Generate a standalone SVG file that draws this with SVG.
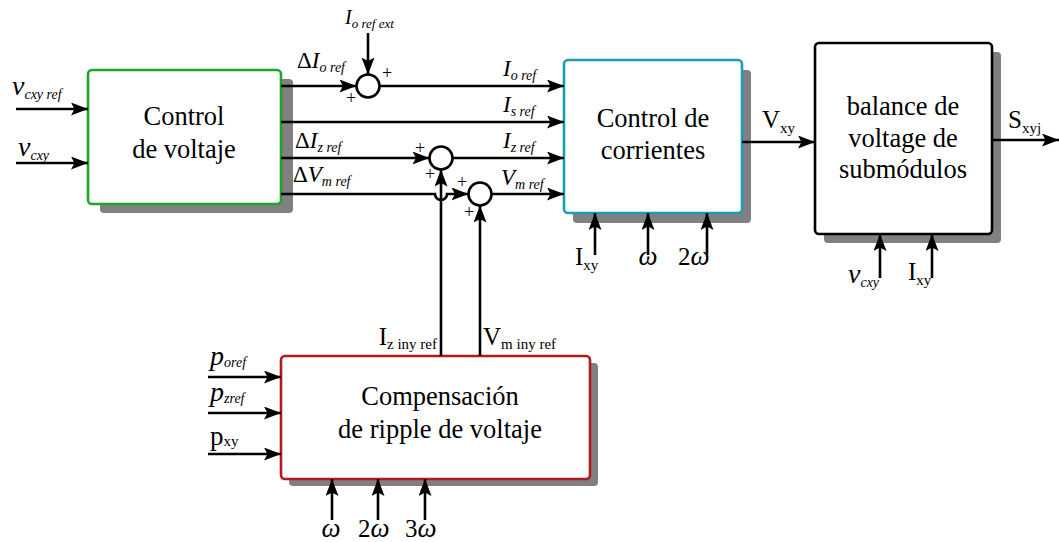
<svg xmlns="http://www.w3.org/2000/svg" width="1059" height="542" viewBox="0 0 1059 542">
<defs>
<marker id="ah" markerUnits="userSpaceOnUse" markerWidth="18" markerHeight="14" refX="17" refY="6.5" orient="auto">
<path d="M0,0 L17,6.5 L0,13 L3.5,6.5 z" fill="#000"/>
</marker>
<style>
text{font-family:"Liberation Serif","DejaVu Serif",serif;fill:#000}
.main{font-size:26.5px;text-anchor:middle}
.it{font-style:italic;font-size:23px}
.dl{font-size:23px}
.sub{font-size:14px;font-style:italic}
.up{font-size:25px}
.usub{font-size:15px}
.big{font-style:italic;font-size:28px}
.bsub{font-style:italic;font-size:14px}
.pl{font-size:18px;text-anchor:middle}
.w{font-style:italic;font-size:27px}
.arr{fill:none;stroke:#000;stroke-width:2.6;marker-end:url(#ah)}
.sh{fill:#808080}
.box{fill:#fff;stroke-width:2.6}
.sum{fill:#fff;stroke:#000;stroke-width:2.6}
</style>
</defs>
<rect width="1059" height="542" fill="#fff"/>

<g id="control-voltaje">
<rect class="sh" x="100" y="79" width="193" height="134" rx="4"/>
<rect class="box" x="88" y="70" width="193" height="134" rx="4" stroke="#1ea52a"/>
<text class="main" x="184" y="125">Control</text>
<text class="main" x="184" y="158">de voltaje</text>
</g>

<g id="control-corrientes">
<rect class="sh" x="573" y="70" width="178" height="153" rx="4"/>
<rect class="box" x="564" y="60" width="178" height="153" rx="4" stroke="#1b9cb6"/>
<text class="main" x="653" y="127">Control de</text>
<text class="main" x="653" y="159">corrientes</text>
</g>

<g id="balance">
<rect class="sh" x="824" y="52" width="177" height="191" rx="4"/>
<rect class="box" x="815" y="43" width="177" height="191" rx="4" stroke="#000"/>
<text class="main" x="903" y="115">balance de</text>
<text class="main" x="903" y="147">voltage de</text>
<text class="main" x="903" y="178">submódulos</text>
</g>

<g id="compensacion">
<rect class="sh" x="289" y="363" width="309" height="123" rx="4"/>
<rect class="box" x="281" y="356" width="309" height="123" rx="4" stroke="#b0191e"/>
<text class="main" x="440" y="405">Compensación</text>
<text class="main" x="440" y="438">de ripple de voltaje</text>
</g>

<g id="sum1"><circle class="sum" cx="368" cy="86" r="11.5"/></g>
<g id="sum2"><circle class="sum" cx="441" cy="158" r="11.5"/></g>
<g id="sum3"><circle class="sum" cx="480" cy="194" r="11.5"/></g>

<g id="connectors">
<line class="arr" x1="16" y1="109" x2="88" y2="109"/>
<line class="arr" x1="16" y1="163" x2="88" y2="163"/>
<line class="arr" x1="281" y1="86" x2="356.5" y2="86"/>
<line class="arr" x1="368" y1="33" x2="368" y2="74.5"/>
<line class="arr" x1="379.5" y1="86" x2="564" y2="86"/>
<line class="arr" x1="281" y1="122" x2="564" y2="122"/>
<line class="arr" x1="281" y1="158" x2="429.5" y2="158"/>
<line class="arr" x1="452.5" y1="158" x2="564" y2="158"/>
<path class="arr" d="M281,194 H435 A6,6 0 0 0 447,194 H468.5"/>
<line class="arr" x1="491.5" y1="194" x2="564" y2="194"/>
<line class="arr" x1="441" y1="356" x2="441" y2="169.5"/>
<line class="arr" x1="480" y1="356" x2="480" y2="205.5"/>
<line class="arr" x1="742" y1="142" x2="815" y2="142"/>
<line class="arr" x1="992" y1="140" x2="1059" y2="140"/>
<line class="arr" x1="595" y1="255" x2="595" y2="213"/>
<line class="arr" x1="648" y1="255" x2="648" y2="213"/>
<line class="arr" x1="707" y1="255" x2="707" y2="213"/>
<line class="arr" x1="880" y1="278" x2="880" y2="234"/>
<line class="arr" x1="932" y1="278" x2="932" y2="234"/>
<line class="arr" x1="208" y1="377" x2="281" y2="377"/>
<line class="arr" x1="208" y1="413" x2="281" y2="413"/>
<line class="arr" x1="208" y1="454" x2="281" y2="454"/>
<line class="arr" x1="332" y1="520" x2="332" y2="479"/>
<line class="arr" x1="378" y1="520" x2="378" y2="479"/>
<line class="arr" x1="425" y1="520" x2="425" y2="479"/>
</g>

<g id="labels">
<text x="12" y="95"><tspan class="big">v</tspan><tspan class="bsub" dy="4">cxy ref</tspan></text>
<text x="18" y="156"><tspan class="big">v</tspan><tspan class="bsub" dy="4">cxy</tspan></text>

<text x="345" y="24"><tspan class="it" style="font-size:20px">I</tspan><tspan class="sub" style="font-size:13px" dy="4">o ref ext</tspan></text>
<text class="pl" x="387" y="79">+</text>
<text class="pl" x="351" y="104">+</text>

<text x="297" y="68"><tspan class="dl">Δ</tspan><tspan class="it">I</tspan><tspan class="sub" dy="4">o ref</tspan></text>
<text x="503" y="76"><tspan class="it">I</tspan><tspan class="sub" dy="4">o ref</tspan></text>
<text x="503" y="112"><tspan class="it">I</tspan><tspan class="sub" dy="4">s ref</tspan></text>
<text x="295" y="148"><tspan class="dl">Δ</tspan><tspan class="it">I</tspan><tspan class="sub" dy="4">z ref</tspan></text>
<text x="503" y="148"><tspan class="it">I</tspan><tspan class="sub" dy="4">z ref</tspan></text>
<text x="293" y="182"><tspan class="dl">Δ</tspan><tspan class="it">V</tspan><tspan class="sub" dy="4">m ref</tspan></text>
<text x="501" y="185"><tspan class="it">V</tspan><tspan class="sub" dy="4">m ref</tspan></text>

<text class="pl" x="420" y="154">+</text>
<text class="pl" x="430" y="180">+</text>
<text class="pl" x="462" y="188">+</text>
<text class="pl" x="469" y="218">+</text>

<text x="437" y="345" text-anchor="end"><tspan class="up">I</tspan><tspan class="usub" dy="4">z iny ref</tspan></text>
<text x="483" y="345"><tspan class="up">V</tspan><tspan class="usub" dy="4">m iny ref</tspan></text>

<text x="762" y="128"><tspan class="up">V</tspan><tspan class="usub" dy="5">xy</tspan></text>
<text x="1008" y="128"><tspan class="up">S</tspan><tspan class="usub" dy="5">xyj</tspan></text>

<text x="575" y="265"><tspan class="up">I</tspan><tspan class="usub" dy="5">xy</tspan></text>
<text class="w" x="648" y="265" text-anchor="middle">ω</text>
<text x="678" y="265"><tspan class="up">2</tspan><tspan class="w">ω</tspan></text>

<text x="848" y="283"><tspan class="big">v</tspan><tspan class="bsub" dy="4">cxy</tspan></text>
<text x="908" y="280"><tspan class="up">I</tspan><tspan class="usub" dy="5">xy</tspan></text>

<text x="210" y="365"><tspan class="big">p</tspan><tspan class="bsub" dy="2">oref</tspan></text>
<text x="210" y="401"><tspan class="big">p</tspan><tspan class="bsub" dy="2">zref</tspan></text>
<text x="210" y="445"><tspan style="font-size:27px">p</tspan><tspan class="usub" dy="1">xy</tspan></text>

<text class="w" x="331" y="537" text-anchor="middle">ω</text>
<text x="358" y="537"><tspan class="up">2</tspan><tspan class="w">ω</tspan></text>
<text x="405" y="537"><tspan class="up">3</tspan><tspan class="w">ω</tspan></text>
</g>
</svg>
